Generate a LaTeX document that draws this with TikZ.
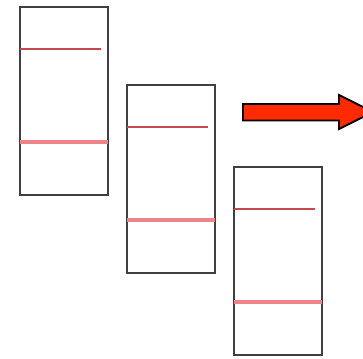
\documentclass[tikz,border=0pt]{standalone}
\usepackage{xcolor}

\definecolor{stripgray}{HTML}{404040}
\definecolor{bandred}{HTML}{C44A50}
\definecolor{bandpink}{HTML}{EE8488}
\definecolor{arrowred}{HTML}{FF2A00}

\tikzset{
  strip/.style={draw=stripgray, line width=1.5pt, fill=white},
  bandthin/.style={draw=bandred, line width=1.2pt},
  bandthick/.style={draw=bandpink, line width=2.4pt},
  shiftarrow/.style={fill=arrowred, draw=black, line width=1.4pt, line join=miter}
}

\begin{document}
\begin{tikzpicture}[x=0.75pt, y=-0.75pt]
\useasboundingbox (0,0) rectangle (363,359);
\clip (0,0) rectangle (363,359);

% the three strips, each one lower and to the right
\foreach \n/\x/\y in {1/20/7, 2/127/85, 3/234/167} {
  \draw[strip] (\x,\y) rectangle ++(88,188);
  \draw[bandthin] (\x,\y+42) -- ++(81,0);
  \draw[bandthick] (\x,\y+135) -- ++(88,0);
}

% arrow at the top right
\draw[shiftarrow] (243,104) -- (339,104) -- (339,95) -- (373,112)
  -- (339,129) -- (339,120.5) -- (243,120.5) -- cycle;
\end{tikzpicture}
\end{document}
